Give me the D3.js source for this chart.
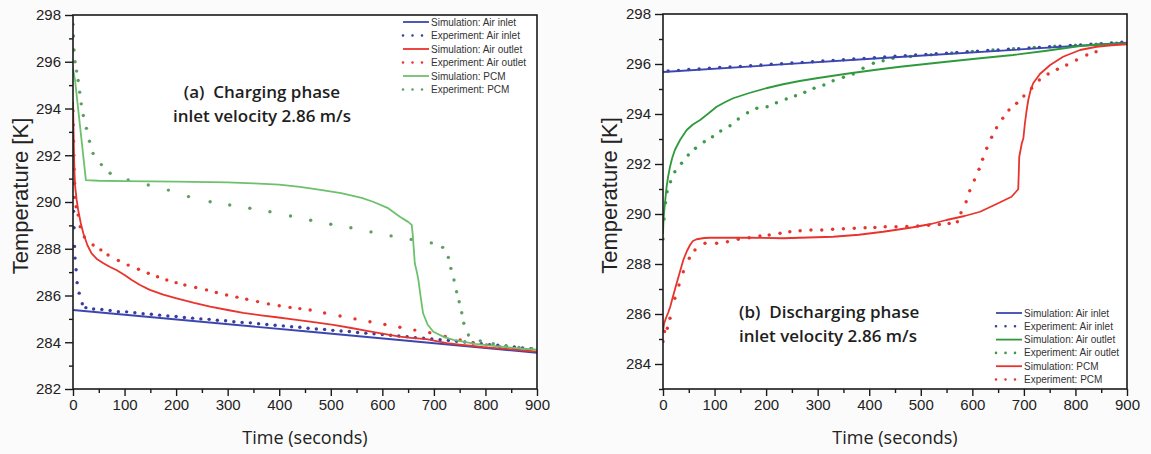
<!DOCTYPE html>
<html>
<head>
<meta charset="utf-8">
<script src="https://cdn.jsdelivr.net/npm/d3@7"></script>
<style>
  body { margin: 0; background: #fbfbfb; }
  svg { display: block; }
</style>
</head>
<body>
<svg id="chart" width="1151" height="454"></svg>
<script>
// ---- tick values ----
const timeTicks = [0, 100, 200, 300, 400, 500, 600, 700, 800, 900];
const timeMinor = [50, 150, 250, 350, 450, 550, 650, 750, 850];
const tempTicksA = [282, 284, 286, 288, 290, 292, 294, 296, 298];
const tempMinorA = [283, 285, 287, 289, 291, 293, 295, 297];
const tempTicksB = [284, 286, 288, 290, 292, 294, 296, 298];
const tempMinorB = [283, 285, 287, 289, 291, 293, 295, 297];

// ---- (a) charging phase: [time s, temperature K] ----
const chargeSimInlet = [[0, 285.38], [450, 284.47], [900, 283.55]];
const chargeExpInlet = [[0, 290.2], [1, 289.6], [2, 288.9], [3, 288.1], [4, 287.6], [6, 287.1], [8, 286.55], [12, 286.1], [18, 285.65],
  [25, 285.48], [40, 285.42], [56, 285.4], [72, 285.36], [88, 285.31], [104, 285.3], [120, 285.26], [136, 285.22], [152, 285.2],
  [168, 285.16], [184, 285.12], [200, 285.1], [216, 285.06], [232, 285.03], [248, 285.0], [264, 284.98], [280, 284.94],
  [296, 284.92], [312, 284.88], [328, 284.85], [344, 284.83], [360, 284.79], [376, 284.76], [392, 284.73], [408, 284.7],
  [424, 284.66], [440, 284.64], [456, 284.6], [472, 284.57], [488, 284.55], [504, 284.51], [520, 284.48], [536, 284.46],
  [552, 284.42], [568, 284.39], [584, 284.36], [600, 284.33], [616, 284.3], [632, 284.27], [648, 284.24], [664, 284.2],
  [680, 284.17], [696, 284.14], [712, 284.11], [728, 284.08], [744, 284.04], [760, 284.01], [776, 283.97], [792, 283.94],
  [808, 283.9], [824, 283.87], [840, 283.83], [856, 283.8], [872, 283.76], [888, 283.72]];
const chargeSimOutlet = [[0, 294.3], [1, 293.1], [2, 292.0], [3, 291.2], [4, 290.7], [7, 290.1], [10, 289.66], [15, 289.1],
  [20, 288.66], [28, 288.15], [36, 287.8], [47, 287.55], [59, 287.38], [72, 287.22], [85, 287.08], [100, 286.88], [114, 286.66],
  [130, 286.45], [149, 286.24], [175, 286.04], [201, 285.88], [235, 285.68], [266, 285.52], [300, 285.38], [330, 285.26],
  [365, 285.15], [395, 285.07], [430, 284.97], [460, 284.88], [505, 284.74], [540, 284.61], [570, 284.49], [600, 284.37],
  [634, 284.24], [660, 284.18], [686, 284.13], [705, 284.05], [725, 283.96], [750, 283.9], [776, 283.84], [800, 283.78],
  [850, 283.7], [900, 283.6]];
const chargeExpOutlet = [[0, 293.9], [0.5, 293.3], [1, 292.6], [1.5, 292.0], [2, 291.4], [3, 290.8], [4, 290.2], [6, 289.8],
  [10, 289.44], [14, 288.94], [22, 288.5], [39, 288.16], [54, 287.95], [68, 287.73], [88, 287.5], [107, 287.3], [127, 287.12],
  [146, 286.95], [164, 286.8], [182, 286.66], [200, 286.55], [217, 286.45], [238, 286.34], [259, 286.24], [278, 286.13],
  [298, 286.02], [318, 285.93], [337, 285.84], [358, 285.74], [379, 285.64], [400, 285.56], [421, 285.49], [440, 285.44],
  [460, 285.38], [488, 285.25], [518, 285.12], [547, 285.0], [576, 284.88], [605, 284.76], [634, 284.64], [663, 284.52],
  [692, 284.41], [722, 284.25], [751, 284.1], [776, 283.98], [802, 283.88], [828, 283.8], [854, 283.73], [880, 283.67]];
const chargeSimPCM = [[0, 295.7], [4, 295.2], [25, 290.94], [50, 290.91], [100, 290.89], [200, 290.87], [300, 290.84],
  [350, 290.8], [400, 290.74], [440, 290.65], [480, 290.52], [520, 290.38], [560, 290.18], [582, 290.01], [610, 289.75],
  [634, 289.37], [650, 289.15], [657, 289.02], [659, 288.6], [661, 288.0], [663, 287.38], [667, 287.0], [670, 286.66],
  [674, 286.0], [679, 285.24], [688, 284.75], [699, 284.45], [720, 284.22], [738, 284.1], [780, 283.93], [820, 283.83],
  [860, 283.75], [900, 283.68]];
const chargeExpPCM = [[0, 297.6], [1, 297.1], [2, 296.5], [4, 296.0], [7, 295.6], [10, 295.2], [13, 294.7], [16, 294.2],
  [20, 293.7], [26, 293.15], [32, 292.6], [39, 292.08], [55, 291.6], [72, 291.23], [107, 290.94], [146, 290.73],
  [185, 290.51], [224, 290.23], [266, 290.01], [304, 289.87], [343, 289.73], [382, 289.58], [422, 289.4], [461, 289.22],
  [500, 289.05], [539, 288.9], [578, 288.72], [617, 288.55], [656, 288.4], [695, 288.25], [717, 288.06], [728, 287.63],
  [733, 287.16], [739, 286.66], [744, 286.16], [749, 285.73], [754, 285.26], [758, 284.81], [767, 284.31], [790, 284.06],
  [815, 283.94], [840, 283.85], [865, 283.78], [890, 283.72]];

// ---- (b) discharging phase: [time s, temperature K] ----
const dischargeSimInlet = [[0, 295.68], [450, 296.27], [900, 296.85]];
const dischargeExpInlet = [[10, 295.72], [30, 295.74], [50, 295.78], [70, 295.8], [90, 295.83], [110, 295.86], [130, 295.88],
  [150, 295.9], [170, 295.93], [190, 295.96], [210, 295.99], [230, 296.01], [250, 296.04], [270, 296.06], [290, 296.09],
  [310, 296.12], [330, 296.14], [350, 296.17], [370, 296.2], [390, 296.22], [410, 296.25], [430, 296.28], [450, 296.31],
  [470, 296.33], [490, 296.36], [510, 296.38], [530, 296.41], [550, 296.43], [570, 296.46], [590, 296.49], [610, 296.51],
  [630, 296.54], [650, 296.56], [670, 296.59], [690, 296.61], [710, 296.64], [730, 296.66], [750, 296.69], [770, 296.71],
  [790, 296.74], [810, 296.76], [830, 296.79], [850, 296.81], [870, 296.84], [890, 296.87]];
const dischargeSimOutlet = [[0, 289.2], [1, 289.8], [2, 290.03], [4.4, 290.56], [7, 291.09], [10, 291.5], [13.6, 291.89],
  [18, 292.25], [23, 292.56], [33, 292.96], [46, 293.36], [58, 293.58], [72, 293.76], [88, 294.02], [104, 294.29],
  [120, 294.47], [136, 294.63], [169, 294.85], [200, 295.03], [233, 295.19], [265, 295.32], [298, 295.43], [330, 295.53],
  [363, 295.63], [421, 295.79], [460, 295.89], [550, 296.09], [620, 296.24], [679, 296.36], [744, 296.53], [809, 296.72],
  [850, 296.78], [900, 296.83]];
const dischargeExpOutlet = [[0, 289.0], [2, 289.8], [5, 290.45], [8, 290.89], [14.6, 291.29], [23, 291.69], [36, 292.03],
  [49, 292.36], [63, 292.63], [80, 292.89], [96, 293.09], [112, 293.32], [130, 293.53], [146, 293.8], [164, 294.05],
  [182, 294.23], [202, 294.29], [220, 294.45], [239, 294.6], [257, 294.73], [275, 294.87], [293, 295.03], [312, 295.16],
  [330, 295.33], [350, 295.47], [369, 295.6], [388, 295.83], [408, 296.03], [427, 296.13], [446, 296.23], [480, 296.3],
  [520, 296.37], [560, 296.44], [600, 296.5], [640, 296.56], [680, 296.61], [720, 296.66], [760, 296.71], [800, 296.75],
  [840, 296.79], [880, 296.83]];
const dischargeSimPCM = [[0, 285.3], [2, 285.6], [5, 285.8], [10, 286.05], [14, 286.29], [20, 286.75], [26.5, 287.23],
  [33, 287.7], [39.4, 288.16], [46, 288.5], [52.4, 288.76], [58, 288.92], [65.4, 288.99], [80, 289.04], [91, 289.05],
  [169, 289.05], [233, 289.03], [330, 289.09], [380, 289.17], [427, 289.29], [460, 289.39], [485, 289.47], [520, 289.6],
  [550, 289.76], [585, 289.92], [615, 290.09], [647, 290.4], [676, 290.69], [689, 290.99], [690, 291.6], [691, 292.29],
  [696, 292.83], [699, 293.03], [702, 293.63], [705, 294.1], [708.5, 294.56], [713, 294.95], [718, 295.23], [731, 295.6],
  [751, 295.96], [776, 296.29], [809, 296.56], [841, 296.69], [870, 296.75], [900, 296.79]];
const dischargeExpPCM = [[0, 284.9], [3, 285.3], [8.4, 285.43], [13.6, 285.83], [23, 286.63], [31, 287.16], [39.4, 287.69],
  [51, 288.23], [62, 288.56], [81.5, 288.83], [104, 288.83], [125, 288.89], [146, 288.99], [167, 289.05], [188, 289.12],
  [206, 289.16], [227, 289.23], [246, 289.29], [266, 289.33], [287, 289.36], [308, 289.36], [329, 289.39], [350, 289.41],
  [371, 289.43], [392, 289.45], [411, 289.46], [431, 289.49], [452, 289.49], [473, 289.5], [494, 289.52], [515, 289.55],
  [536, 289.58], [555, 289.62], [571, 289.69], [578, 290.05], [588, 290.49], [595, 290.93], [604, 291.36], [613, 291.79],
  [620, 292.19], [628, 292.63], [637.5, 293.07], [647, 293.45], [659, 293.83], [671, 294.16], [686, 294.43], [700, 294.72],
  [715, 295.03], [730, 295.36], [747, 295.6], [765, 295.79], [783, 295.96], [802, 296.16], [822, 296.36], [840, 296.49]];

// ---- colours ----
const BLUE = "#3b47b0", BLUE_DOT = "#3a3d9e";
const RED = "#e8342c", RED_DOT = "#e5352d";
const GREEN_A = "#6cc16c", GREEN_A_DOT = "#5f9f64";
const GREEN_B = "#2f9a3c", GREEN_B_DOT = "#3d9a48";

const svg = d3.select("#chart");

function drawPanel(cfg) {
  const x = d3.scaleLinear().domain([0, 900]).range([cfg.left, cfg.right]);
  const y = d3.scaleLinear().domain(cfg.yDomain).range([cfg.bottom, cfg.top]);
  const g = svg.append("g");

  g.append("rect")
    .attr("x", cfg.left).attr("y", cfg.top)
    .attr("width", cfg.right - cfg.left).attr("height", cfg.bottom - cfg.top)
    .attr("fill", "#ffffff");

  const clipId = "clip-" + cfg.id;
  svg.append("defs").append("clipPath").attr("id", clipId)
    .append("rect")
    .attr("x", cfg.left).attr("y", cfg.top - 1)
    .attr("width", cfg.right - cfg.left + 1).attr("height", cfg.bottom - cfg.top + 1);

  const plot = g.append("g").attr("clip-path", `url(#${clipId})`);
  const line = d3.line().x(d => x(d[0])).y(d => y(d[1]));

  // experiment markers first, simulation curves on top
  cfg.series.filter(s => s.kind === "exp").forEach(s => {
    plot.append("g").selectAll("circle").data(s.data).join("circle")
      .attr("cx", d => x(d[0])).attr("cy", d => y(d[1]))
      .attr("r", 1.7).attr("fill", s.color);
  });
  cfg.series.filter(s => s.kind === "sim").forEach(s => {
    plot.append("path").datum(s.data)
      .attr("d", line).attr("fill", "none")
      .attr("stroke", s.color).attr("stroke-width", 1.8)
      .attr("stroke-linejoin", "round");
  });

  // frame
  g.append("rect")
    .attr("x", cfg.left).attr("y", cfg.top)
    .attr("width", cfg.right - cfg.left).attr("height", cfg.bottom - cfg.top)
    .attr("fill", "none").attr("stroke", "#1a1a1a").attr("stroke-width", 1.6);

  const tickFont = "'Liberation Sans', Arial, sans-serif";
  const styleAxis = sel => {
    sel.select(".domain").remove();
    sel.selectAll(".tick line").attr("stroke", "#1a1a1a").attr("stroke-width", 1.4);
    sel.selectAll("text").attr("font-family", tickFont).attr("font-size", 15).attr("fill", "#222");
  };

  // y axis
  g.append("g").attr("transform", `translate(${cfg.left},0)`)
    .call(d3.axisLeft(y).tickValues(cfg.yTicks).tickSize(8).tickPadding(4).tickFormat(d3.format("d")))
    .call(styleAxis);
  g.append("g").attr("transform", `translate(${cfg.left},0)`)
    .call(d3.axisLeft(y).tickValues(cfg.yMinor).tickSize(4).tickFormat(""))
    .call(styleAxis);

  // x axis
  g.append("g").attr("transform", `translate(0,${cfg.bottom})`)
    .call(d3.axisBottom(x).tickValues(timeTicks).tickSize(7).tickPadding(3).tickFormat(d3.format("d")))
    .call(styleAxis);
  g.append("g").attr("transform", `translate(0,${cfg.bottom})`)
    .call(d3.axisBottom(x).tickValues(timeMinor).tickSize(4).tickFormat(""))
    .call(styleAxis);

  // axis titles
  g.append("text")
    .attr("transform", `translate(${cfg.yLabelX},${(cfg.top + cfg.bottom) / 2 - 6}) rotate(-90)`)
    .attr("text-anchor", "middle").attr("dominant-baseline", "central")
    .attr("font-family", tickFont).attr("font-size", 22).attr("fill", "#222")
    .text("Temperature [K]");
  g.append("text")
    .attr("x", (cfg.left + cfg.right) / 2).attr("y", 444)
    .attr("text-anchor", "middle")
    .attr("font-family", "'Open Sans', 'Noto Sans', sans-serif").attr("font-size", 18).attr("fill", "#222")
    .text("Time (seconds)");

  // phase annotation
  const ann = g.append("text")
    .attr("font-family", "'Open Sans', 'Noto Sans', sans-serif").attr("font-weight", 600)
    .attr("font-size", 17).attr("fill", "#1e1e1e")
    .attr("text-anchor", cfg.note.anchor);
  cfg.note.lines.forEach((t, i) => {
    ann.append("tspan").attr("x", cfg.note.x).attr("y", cfg.note.y + i * 24).attr("xml:space", "preserve").text(t);
  });

  // legend
  const lg = g.append("g");
  cfg.series.forEach((s, i) => {
    const ry = cfg.legend.y + i * cfg.legend.step;
    const ln = lg.append("line")
      .attr("x1", cfg.legend.x).attr("x2", cfg.legend.x + 26)
      .attr("y1", ry).attr("y2", ry).attr("stroke", s.color);
    if (s.kind === "sim") {
      ln.attr("stroke-width", 1.8);
    } else {
      ln.attr("stroke-width", 2.6).attr("stroke-linecap", "round").attr("stroke-dasharray", "0 9.5");
    }
    lg.append("text")
      .attr("x", cfg.legend.x + 28).attr("y", ry).attr("dominant-baseline", "central")
      .attr("font-family", tickFont).attr("font-size", 10).attr("fill", "#333")
      .text(s.label);
  });
}

drawPanel({
  id: "a", left: 73, right: 537, top: 15, bottom: 389,
  yDomain: [282, 298], yTicks: tempTicksA, yMinor: tempMinorA, yLabelX: 20,
  note: { x: 262, y: 98, anchor: "middle", lines: ["(a)  Charging phase", "inlet velocity 2.86 m/s"] },
  legend: { x: 403, y: 22, step: 13.5 },
  series: [
    { label: "Simulation: Air inlet", kind: "sim", color: BLUE, data: chargeSimInlet },
    { label: "Experiment: Air inlet", kind: "exp", color: BLUE_DOT, data: chargeExpInlet },
    { label: "Simulation: Air outlet", kind: "sim", color: RED, data: chargeSimOutlet },
    { label: "Experiment: Air outlet", kind: "exp", color: RED_DOT, data: chargeExpOutlet },
    { label: "Simulation: PCM", kind: "sim", color: GREEN_A, data: chargeSimPCM },
    { label: "Experiment: PCM", kind: "exp", color: GREEN_A_DOT, data: chargeExpPCM }
  ]
});

drawPanel({
  id: "b", left: 663, right: 1127, top: 14, bottom: 389,
  yDomain: [283, 298], yTicks: tempTicksB, yMinor: tempMinorB, yLabelX: 609,
  note: { x: 739, y: 318, anchor: "start", lines: ["(b)  Discharging phase", "inlet velocity 2.86 m/s"] },
  legend: { x: 996, y: 313, step: 13.3 },
  series: [
    { label: "Simulation: Air inlet", kind: "sim", color: BLUE, data: dischargeSimInlet },
    { label: "Experiment: Air inlet", kind: "exp", color: BLUE_DOT, data: dischargeExpInlet },
    { label: "Simulation: Air outlet", kind: "sim", color: GREEN_B, data: dischargeSimOutlet },
    { label: "Experiment: Air outlet", kind: "exp", color: GREEN_B_DOT, data: dischargeExpOutlet },
    { label: "Simulation: PCM", kind: "sim", color: RED, data: dischargeSimPCM },
    { label: "Experiment: PCM", kind: "exp", color: RED_DOT, data: dischargeExpPCM }
  ]
});
</script>
</body>
</html>
